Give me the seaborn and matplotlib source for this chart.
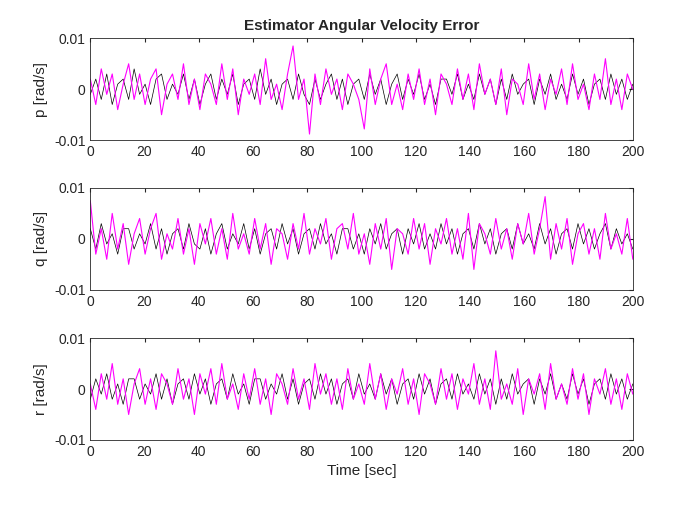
import numpy as np
import seaborn as sns
from matplotlib import pyplot as plt

# estimated error traces, units of 1e-3 rad/s (100 samples over 0-200 s)
p_mag = [2, -3, 4, -1, 3, -4, 1, 5, -2, 3, -3, 2, 4, -5, 1, 3, -2, 5, -3, 2,
         -4, 3, 1, -3, 5, -2, 4, -5, 2, -1, 3, -3, 6, -2, 1, -4, 3, 8.5, -2, 2,
         -8.8, 3, -3, 4, -1, 2, -4, 3, 1, -2, -7.8, 4, -3, 2, 5, -3, 1, -4, 3, -2,
         4, -3, 2, -5, 3, 1, -3, 4, -2, 3, -4, 5, -1, 2, -3, 4, -5, 2, 1, -3,
         5, -2, 3, -4, 2, -1, 4, -3, 5, -2, 1, -4, 3, -2, 6, -3, 2, -4, 3, 0]
p_blk = [-1, 2, -2, 3, -3, 1, 2, -2, 4, -1, 1, -3, 2, 3, -2, 1, -1, 3, -2, 2,
         -3, 1, 3, -2, 2, -1, 3, -3, 1, 2, -2, 4, -1, 2, -3, 1, 2, -2, 3, -1,
         -3, 2, -2, 1, 3, -2, 2, -3, 1, 2, -2, 3, -1, 2, -3, 1, 3, -2, 2, -1,
         3, -2, 1, -3, 2, 2, -1, 3, -2, 1, -2, 3, -1, 2, -3, 2, -2, 3, -1, 1,
         2, -3, 2, -1, 3, -2, 1, -2, 3, -1, 2, -3, 1, 2, -2, 3, -1, 2, -2, 1]
q_mag = [7.5, -3, 2, -4, 5, -2, 3, -5, 1, 4, -3, 2, 5, -4, 1, -2, 4, -3, 2, -5,
         3, -1, 4, -3, 2, -4, 5, -2, 1, -3, 4, -2, 3, -5, 2, 1, -4, 3, -2, 5,
         -3, 2, -1, 4, -4, 2, 3, -2, 5, -3, 1, -5, 3, -2, 4, -6, 2, 1, -3, 4,
         -2, 3, -5, 2, -1, 4, -3, 2, -4, 5, -6, 3, 1, -3, 4, -2, 2, -4, 3, -1,
         5, -3, 2, 8.3, -4, 3, -2, 4, -5, 1, 3, -3, 2, -4, 5, -2, 1, -3, 4, -4]
q_blk = [2, -2, 3, -1, 1, -3, 2, 2, -2, 1, -1, 3, -2, 2, -3, 1, 2, -2, 3, -1,
         -2, 2, -3, 1, 3, -2, 1, -1, 3, -2, 2, -3, 1, 2, -2, 3, -1, 2, -3, 1,
         2, -2, 3, -1, 1, -3, 2, 2, -2, 1, -3, 2, -1, 3, -2, 1, 2, -3, 2, -1,
         3, -2, 1, -2, 3, -1, 2, -3, 1, 2, -2, 3, -1, 2, -3, 1, 2, -2, 3, -1,
         1, -2, 3, -1, 2, -3, 1, 2, -2, 3, -1, 2, -2, 1, 3, -2, 2, -1, 1, -2]
r_mag = [1, -4, 3, -2, 5, -3, 2, -5, 1, 4, -3, 2, -4, 3, 1, -3, 4, -2, 2, -5,
         3, -1, 4, -3, 5, -2, 1, -4, 3, -2, 4, -3, 2, -5, 3, 1, -3, 4, -2, 2,
         -4, 5, -1, 3, -3, 2, -4, 4, -2, 1, -3, 5, -2, 3, -4, 2, -1, 4, -3, 2,
         -5, 3, 1, -3, 4, -2, 3, -4, 2, -1, 5, -3, 2, -4, 7.5, -2, 1, -3, 4, -5,
         2, -1, 3, -4, 5, -2, 1, -3, 4, -2, 3, -5, 2, -1, 4, -3, 2, -4, 3, -1]
r_blk = [-2, 2, -1, 3, -2, 1, -3, 2, 2, -2, 1, -1, 3, -2, 2, -3, 1, 2, -2, 3,
         -1, 2, -3, 1, 2, -2, 3, -1, 1, -3, 2, 2, -2, 1, -1, 3, -2, 2, -3, 1,
         2, -2, 3, -1, 2, -3, 1, 2, -2, 3, -1, 1, -2, 3, -1, 2, -3, 1, 2, -2,
         3, -1, 2, -3, 1, 2, -2, 3, -1, 1, -2, 3, -1, 2, -3, 2, -2, 3, -1, 1,
         2, -3, 2, -1, 3, -2, 1, -2, 3, -1, 2, -3, 1, 2, -2, 3, -1, 2, -2, 1]
time = np.linspace(0, 200, 100)
ylabels = ["p [rad/s]", "q [rad/s]", "r [rad/s]"]

sns.set_style("white")
plt.rcParams["font.family"] = ["Liberation Sans", "DejaVu Sans"]
plt.rcParams["text.color"] = "#262626"
fig = plt.figure(figsize=(7, 5.25), dpi=100)
bottoms = [0.733, 0.448, 0.162]
panels = [(p_mag, p_blk), (q_mag, q_blk), (r_mag, r_blk)]

for i, ((mag, blk), lab) in enumerate(zip(panels, ylabels)):
    ax = fig.add_axes([0.129, bottoms[i], 0.775, 0.194])
    sns.lineplot(x=time, y=np.array(blk) * 1e-3, color="black", lw=0.5, ax=ax)
    sns.lineplot(x=time, y=np.array(mag) * 1e-3, color="magenta", lw=0.8, ax=ax)
    ax.set_xlim(0, 200)
    ax.set_ylim(-0.01, 0.01)
    ax.set_xticks(range(0, 201, 20))
    ax.set_yticks([-0.01, 0, 0.01])
    ax.set_yticklabels(["-0.01", "0", "0.01"])
    ax.tick_params(direction="in", labelsize=10, top=True, right=True, length=3,
                   colors="#262626")
    for s in ax.spines.values():
        s.set_color("#262626")
        s.set_linewidth(0.6)
    ax.set_ylabel(lab, fontsize=11, color="#262626")
    if i == 0:
        ax.set_title("Estimator Angular Velocity Error", fontsize=11, fontweight="bold")
    if i == 2:
        ax.set_xlabel("Time [sec]", fontsize=11, color="#262626")

fig.savefig("out.png", dpi=100)
